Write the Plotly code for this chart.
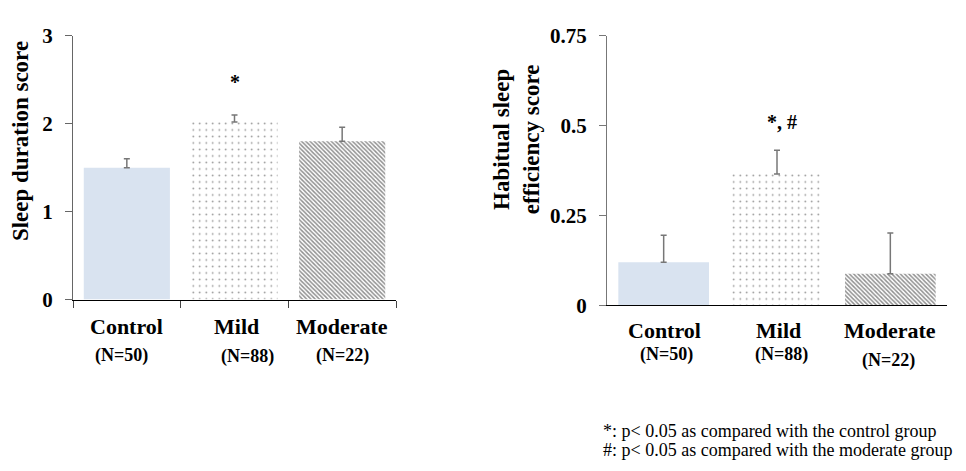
import plotly.graph_objects as go

groups = ["Control", "Mild", "Moderate"]
n_labels = ["(N=50)", "(N=88)", "(N=22)"]
duration_mean = [1.50, 2.02, 1.80]
duration_err = [0.10, 0.08, 0.16]
efficiency_mean = [0.12, 0.365, 0.088]
efficiency_err = [0.075, 0.066, 0.113]
duration_ticks = [0, 1, 2, 3]
efficiency_ticks = [0, 0.25, 0.5, 0.75]
efficiency_ticktext = ["0", "0.25", "0.5", "0.75"]

SERIF = "Liberation Serif, Times New Roman, serif"
colors = ["#d9e3f0", "white", "white"]
patterns = [
    dict(shape=""),
    dict(shape=".", fgcolor="#222222", bgcolor="white", size=6.5, solidity=0.05, fillmode="overlay"),
    dict(shape="\\", fgcolor="#222222", bgcolor="white", size=3, solidity=0.5, fillmode="overlay"),
]

fig = go.Figure()
for axis_i, (means, errs) in enumerate([(duration_mean, duration_err), (efficiency_mean, efficiency_err)]):
    xa = "x" if axis_i == 0 else "x2"
    ya = "y" if axis_i == 0 else "y2"
    for i, g in enumerate(groups):
        fig.add_trace(go.Bar(
            x=[g], y=[means[i]], xaxis=xa, yaxis=ya, width=0.8,
            marker=dict(color=colors[i], line=dict(width=0), pattern=patterns[i]),
            error_y=dict(type="data", symmetric=False, array=[errs[i]], arrayminus=[0],
                         color="#777777", thickness=1.5, width=3),
            showlegend=False, hoverinfo="skip",
        ))

axis_common = dict(showgrid=False, zeroline=False, ticks="outside", ticklen=7,
                   tickfont=dict(family=SERIF, size=21, color="black", weight="bold"))

fig.update_layout(
    width=966, height=471, margin=dict(l=0, r=0, t=0, b=0),
    paper_bgcolor="white", plot_bgcolor="white", bargap=0.2,
    xaxis=dict(domain=[73/966, 396/966], anchor="y", type="category", range=[-0.5, 2.5],
               showticklabels=False, ticks="outside", tickson="boundaries", ticklen=7,
               tickcolor="#444444", showline=True, linecolor="black", linewidth=1.3,
               showgrid=False, categoryorder="array", categoryarray=groups),
    yaxis=dict(domain=[1-303/471, 1-25/471], anchor="x", range=[0, 3], tickvals=duration_ticks,
               showline=True, linecolor="#666666", linewidth=1.3, tickcolor="#666666",
               ticklabelstandoff=8, **axis_common),
    xaxis2=dict(domain=[607/966, 947/966], anchor="y2", type="category", range=[-0.5, 2.5],
                showticklabels=False, ticks="", showline=True, linecolor="black", linewidth=1.3,
                showgrid=False, categoryorder="array", categoryarray=groups),
    yaxis2=dict(domain=[1-309/471, 1-25/471], anchor="x2", range=[0, 0.75], tickvals=efficiency_ticks,
                ticktext=efficiency_ticktext,
                showline=True, linecolor="#777777", linewidth=1.3, tickcolor="#777777",
                ticklabelstandoff=8, **axis_common),
)

def paper_y(px):
    return 1 - px / 471

ann = []
left_name_dx = [0, 2, 0]
left_n_dx = [-5, 13, 0]
left_n_y = [362, 363, 362]
right_name_dx = [1, 1, 0]
right_n_dx = [3, 4, -2]
right_n_y = [361, 361, 367]
for i, g in enumerate(groups):
    ann.append(dict(x=g, xref="x", y=paper_y(331), yref="paper", yanchor="middle", xanchor="center",
                    xshift=left_name_dx[i], text=f"<b>{g}</b>", showarrow=False,
                    font=dict(family=SERIF, size=22, color="black")))
    ann.append(dict(x=g, xref="x", y=paper_y(left_n_y[i]), yref="paper", yanchor="middle", xanchor="center",
                    text=f"<b>{n_labels[i]}</b>", showarrow=False, xshift=left_n_dx[i],
                    font=dict(family=SERIF, size=18, color="black")))
    ann.append(dict(x=g, xref="x2", y=paper_y(336), yref="paper", yanchor="middle", xanchor="center",
                    xshift=right_name_dx[i], text=f"<b>{g}</b>", showarrow=False,
                    font=dict(family=SERIF, size=22, color="black")))
    ann.append(dict(x=g, xref="x2", y=paper_y(right_n_y[i]), yref="paper", yanchor="middle",
                    xanchor="center", xshift=right_n_dx[i], text=f"<b>{n_labels[i]}</b>", showarrow=False,
                    font=dict(family=SERIF, size=18, color="black")))

ann.append(dict(x="Mild", xref="x", y=2.47, yref="y", yanchor="middle", text="<b>*</b>", showarrow=False,
                font=dict(family=SERIF, size=20, color="black")))
ann.append(dict(x="Mild", xref="x2", y=0.51, yref="y2", yanchor="middle", text="<b>*, #</b>", showarrow=False,
                xshift=5, font=dict(family=SERIF, size=20, color="black")))

ann.append(dict(x=20/966, xref="paper", y=paper_y(136), yref="paper", xanchor="center", yanchor="middle",
                text="<b>Sleep duration score</b>", textangle=-90, showarrow=False,
                font=dict(family=SERIF, size=23, color="black")))
ann.append(dict(x=516/966, xref="paper", y=paper_y(134), yref="paper", xanchor="center", yanchor="middle",
                text="<b>Habitual sleep<br>efficiency score</b>", textangle=-90, showarrow=False,
                font=dict(family=SERIF, size=23, color="black")))

ann.append(dict(x=601/966, xref="paper", xanchor="left", y=paper_y(441), yref="paper", yanchor="middle",
                text="*: p< 0.05 as compared with the control group", showarrow=False,
                font=dict(family=SERIF, size=18, color="black")))
ann.append(dict(x=601/966, xref="paper", xanchor="left", y=paper_y(462), yref="paper", yanchor="middle",
                text="#: p< 0.05 as compared with the moderate group", showarrow=False,
                font=dict(family=SERIF, size=18, color="black")))

fig.update_layout(annotations=ann)
fig.write_html("out.html", config={"displayModeBar": False},
               post_script="document.body.style.margin='0';")
